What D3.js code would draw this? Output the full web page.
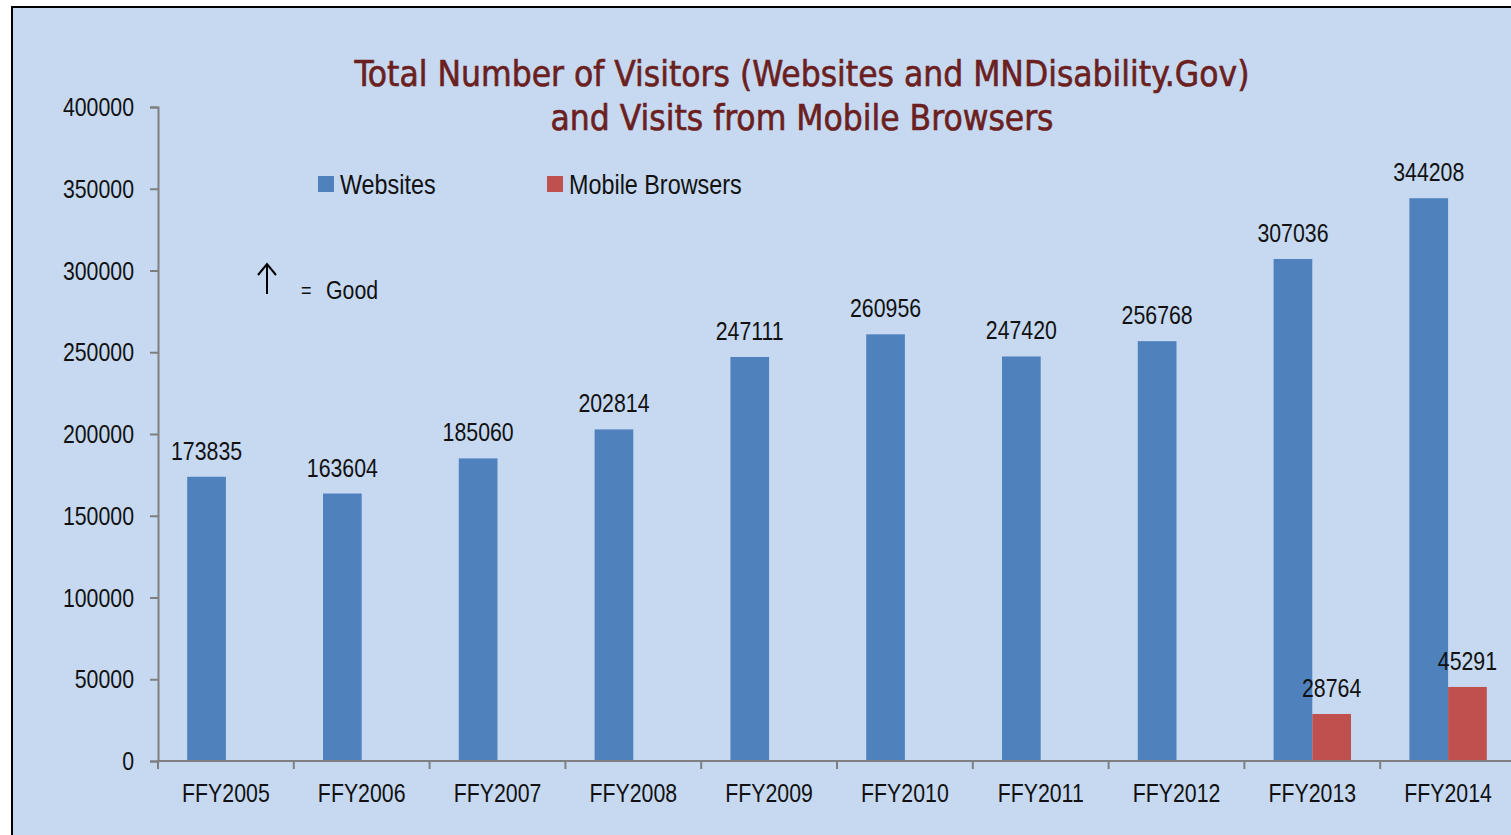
<!DOCTYPE html>
<html>
<head>
<meta charset="utf-8">
<script src="https://cdn.jsdelivr.net/npm/d3@7"></script>
<style>
  html, body { margin: 0; padding: 0; background: #fff; overflow: hidden; }
  svg { display: block; }
  .lbl { font-family: "Liberation Sans", Arial, sans-serif; font-size: 26px; fill: #111; }
  .title { font-family: "DejaVu Sans", sans-serif; font-stretch: condensed; fill: #6b1f1f; }
</style>
</head>
<body>
<svg id="chart" width="1511" height="835"></svg>
<script>
// chart values
var years = ["FFY2005", "FFY2006", "FFY2007", "FFY2008", "FFY2009",
             "FFY2010", "FFY2011", "FFY2012", "FFY2013", "FFY2014"];
var websites = [173835, 163604, 185060, 202814, 247111, 260956, 247420, 256768, 307036, 344208];
var mobile = [null, null, null, null, null, null, null, null, 28764, 45291];
var seriesNames = ["Websites", "Mobile Browsers"];
var seriesColors = ["#4f81bd", "#c0504d"];
var yTicks = [0, 50000, 100000, 150000, 200000, 250000, 300000, 350000, 400000];
var titleLines = ["Total Number of Visitors (Websites and MNDisability.Gov)",
                  "and Visits from Mobile Browsers"];

var NARROW = 0.82; // no narrow face installed, squeeze Liberation Sans

// text placed with a horizontal squeeze
function place(sel, fx, fy) {
  sel.attr("transform", function(d, i) {
    var px = typeof fx === "function" ? fx(d, i) : fx,
        py = typeof fy === "function" ? fy(d, i) : fy;
    return "translate(" + px + "," + py + ") scale(" + NARROW + ",1)";
  });
  return sel;
}

var svg = d3.select("#chart");

// panel background + frame
svg.append("rect")
    .attr("x", 12).attr("y", 7)
    .attr("width", 1520).attr("height", 850)
    .attr("fill", "#c6d9f1")
    .attr("stroke", "#000").attr("stroke-width", 2);

var plot = { left: 158, right: 1516, top: 107, bottom: 761 };

var y = d3.scaleLinear().domain([0, 400000]).range([plot.bottom, plot.top]);

var x0 = d3.scaleBand().domain(years)
    .range([plot.left, plot.right])
    .paddingInner(0.43).paddingOuter(0.215);
var x1 = d3.scaleBand().domain(seriesNames).range([0, x0.bandwidth()]);

var step = x0.step();

// bars
var rows = years.map(function(d, i) {
  return { year: d, vals: [websites[i], mobile[i]] };
});

var groups = svg.append("g").selectAll("g").data(rows).join("g")
    .attr("transform", function(d) { return "translate(" + x0(d.year) + ",0)"; });

function present(d) {
  return d.vals.map(function(v, j) { return { name: seriesNames[j], v: v, j: j }; })
               .filter(function(e) { return e.v != null; });
}

groups.selectAll("rect")
    .data(present)
    .join("rect")
    .attr("x", function(e) { return x1(e.name); })
    .attr("width", x1.bandwidth())
    .attr("y", function(e) { return y(e.v); })
    .attr("height", function(e) { return y(0) - y(e.v); })
    .attr("fill", function(e) { return seriesColors[e.j]; });

place(groups.selectAll("text")
    .data(present)
    .join("text")
    .attr("class", "lbl")
    .attr("text-anchor", "middle")
    .text(function(e) { return e.v; }),
  function(e) { return x1(e.name) + x1.bandwidth() / 2; },
  function(e) { return y(e.v) - 17; });

// y axis
var yAxis = svg.append("g")
    .attr("transform", "translate(" + plot.left + ",0)")
    .call(d3.axisLeft(y).tickValues(yTicks).tickSize(8).tickFormat(""));
yAxis.select(".domain").attr("stroke", "#7f7f7f").attr("stroke-width", 2);
yAxis.selectAll(".tick line").attr("stroke", "#7f7f7f").attr("stroke-width", 2);

place(svg.append("g").selectAll("text")
    .data(yTicks)
    .join("text")
    .attr("class", "lbl")
    .attr("text-anchor", "end")
    .attr("dy", "0.35em")
    .text(function(d) { return d3.format("d")(d); }),
  plot.left - 24, function(d) { return y(d); });

// x axis: line along zero, ticks at category boundaries
var xAxis = svg.append("g");
xAxis.append("line")
    .attr("x1", plot.left).attr("x2", plot.right)
    .attr("y1", y(0)).attr("y2", y(0))
    .attr("stroke", "#7f7f7f").attr("stroke-width", 2);
xAxis.selectAll("line.tk")
    .data(years)
    .join("line")
    .attr("class", "tk")
    .attr("x1", function(d) { return x0(d) - step * 0.215; })
    .attr("x2", function(d) { return x0(d) - step * 0.215; })
    .attr("y1", y(0)).attr("y2", y(0) + 8)
    .attr("stroke", "#7f7f7f").attr("stroke-width", 2);
place(xAxis.selectAll("text")
    .data(years)
    .join("text")
    .attr("class", "lbl")
    .attr("text-anchor", "middle")
    .text(function(d) { return d; }),
  function(d) { return x0(d) + x0.bandwidth() / 2; }, 802);

// title
svg.append("g").selectAll("text")
    .data(titleLines)
    .join("text")
    .attr("class", "title")
    .attr("text-anchor", "middle")
    .attr("x", 802)
    .attr("y", function(d, i) { return 86 + i * 44; })
    .attr("font-size", 35)
    .attr("stroke", "#6b1f1f").attr("stroke-width", 0.6)
    .text(function(d) { return d; });

// legend
var legendX = [318, 547];
var legend = svg.append("g").selectAll("g")
    .data(seriesNames)
    .join("g")
    .attr("transform", function(d, i) { return "translate(" + legendX[i] + ",176)"; });
legend.append("rect")
    .attr("width", 16).attr("height", 16)
    .attr("fill", function(d, i) { return seriesColors[i]; });
place(legend.append("text")
    .attr("class", "lbl")
    .style("font-size", "28.5px")
    .text(function(d) { return d; }), 22, 18);

// "up = Good" note
var note = svg.append("g");
note.append("line")
    .attr("x1", 267).attr("x2", 267).attr("y1", 264).attr("y2", 294)
    .attr("stroke", "#000").attr("stroke-width", 2);
note.append("path")
    .attr("d", "M258,275 L267,264 L276,275")
    .attr("fill", "none").attr("stroke", "#000").attr("stroke-width", 2);
place(note.append("text").attr("class", "lbl")
    .style("font-size", "22px").text("="), 301, 298);
place(note.append("text").attr("class", "lbl").text("Good"), 326, 299);
</script>
</body>
</html>
